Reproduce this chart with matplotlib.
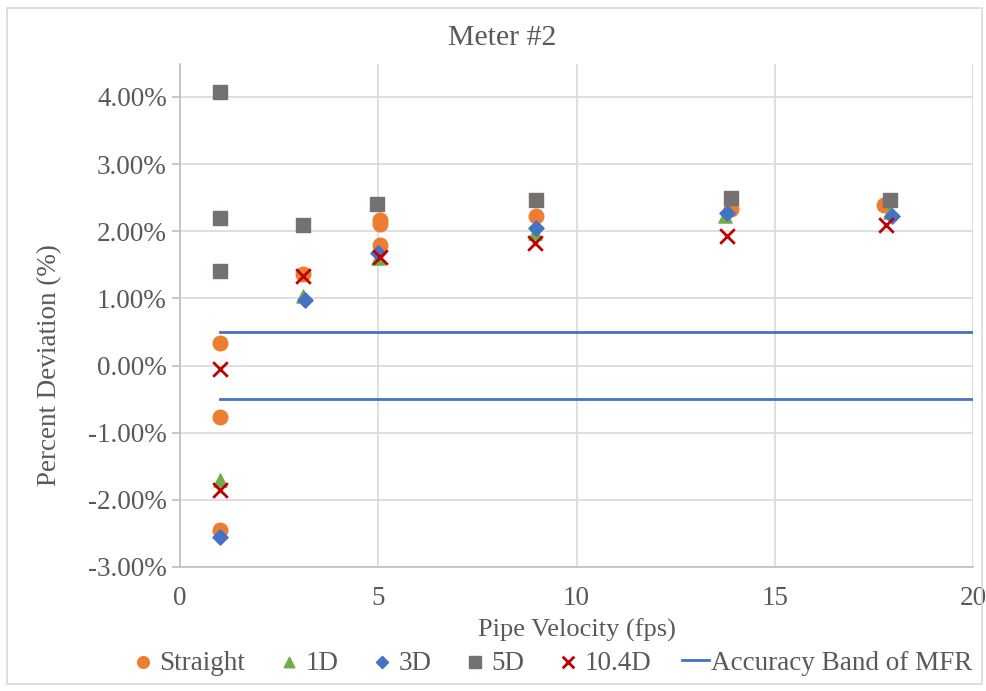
import matplotlib.pyplot as plt
from matplotlib.patches import Rectangle
from matplotlib.ticker import FuncFormatter

plt.rcParams['font.family'] = ['Liberation Serif', 'DejaVu Serif']

# pipe velocity (fps) and percent deviation (%) per configuration
straight_x = [1.0, 1.0, 1.0, 3.1, 5.05, 5.05, 5.05, 8.98, 13.9, 17.75]
straight_y = [0.33, -0.76, -2.45, 1.37, 2.16, 2.11, 1.79, 2.22, 2.33, 2.39]

d1_x = [1.0, 3.1, 5.0, 8.95, 13.75, 17.9]
d1_y = [-1.70, 1.04, 1.60, 1.98, 2.22, 2.28]

d3_x = [1.0, 3.15, 5.0, 8.98, 13.8, 17.95]
d3_y = [-2.55, 0.97, 1.67, 2.05, 2.27, 2.22]

d5_x = [1.0, 1.0, 1.0, 3.1, 4.98, 8.98, 13.9, 17.9]
d5_y = [4.08, 2.20, 1.41, 2.09, 2.41, 2.46, 2.49, 2.46]

d104_x = [1.0, 1.0, 3.1, 5.05, 8.95, 13.8, 17.8]
d104_y = [-0.05, -1.85, 1.33, 1.62, 1.82, 1.93, 2.10]

band_x = [1, 20]
band_hi = [0.5, 0.5]
band_lo = [-0.5, -0.5]

txt = '#595959'
fig = plt.figure(figsize=(9.87, 6.91), dpi=100)
ax = fig.add_axes([180 / 987, 1 - 567 / 691, 793 / 987, 503 / 691])

ax.scatter(straight_x, straight_y, marker='o', s=110, color='#ED7D31', label='Straight', zorder=3)
ax.scatter(d1_x, d1_y, marker='^', s=90, color='#70AD47', label='1D', zorder=3)
ax.scatter(d3_x, d3_y, marker='D', s=60, color='#4472C4', label='3D', zorder=3)
ax.scatter(d5_x, d5_y, marker='s', s=110, color='#767171', label='5D', zorder=3)
ax.scatter(d104_x, d104_y, marker='x', s=110, color='#C00000', linewidths=2, label='10.4D', zorder=3)
ax.plot(band_x, band_hi, color='#4472C4', lw=2, label='Accuracy Band of MFR', zorder=2)
ax.plot(band_x, band_lo, color='#4472C4', lw=2, zorder=2)

ax.set_xlim(0, 20)
ax.set_ylim(-3, 4.49)
ax.set_xticks([0, 5, 10, 15, 20])
ax.set_yticks(range(-3, 5))
ax.yaxis.set_major_formatter(FuncFormatter(lambda v, p: f'{v:.2f}%'))
ax.grid(True, color='#D9D9D9', lw=1.2)
ax.set_axisbelow(True)
for s in ['top', 'right']:
    ax.spines[s].set_visible(False)
for s in ['left', 'bottom']:
    ax.spines[s].set_color('#BFBFBF')
    ax.spines[s].set_linewidth(1.2)
ax.tick_params(axis='y', colors='#BFBFBF', labelcolor=txt, labelsize=19.5, length=6, width=1.2)
ax.tick_params(axis='x', colors='#BFBFBF', labelcolor=txt, labelsize=19.5, length=0, pad=14)

fig.text(502 / 987, 1 - 38 / 691, 'Meter #2', fontsize=21.5, color=txt, ha='center', va='center')
ax.set_xlabel('Pipe Velocity (fps)', fontsize=19, color=txt, va='center')
ax.xaxis.set_label_coords(0.5, (567 - 630) / 503)
ax.set_ylabel('Percent Deviation (%)', fontsize=19.5, color=txt, va='center')
ax.yaxis.set_label_coords((50 - 180) / 793, (567 - 365) / 503)

fig.legend(loc='center', bbox_to_anchor=(551 / 987, 1 - 663 / 691), ncol=6, frameon=False,
           fontsize=19.5, labelcolor=txt, handletextpad=0.1, columnspacing=1.12,
           handlelength=1.0, markerscale=0.8)

fig.add_artist(Rectangle((7 / 987, 1 - 684 / 691), 975 / 987, 676 / 691,
                         transform=fig.transFigure, fill=False, edgecolor='#D9D9D9', lw=1.2))

fig.savefig('out.png', dpi=100)
